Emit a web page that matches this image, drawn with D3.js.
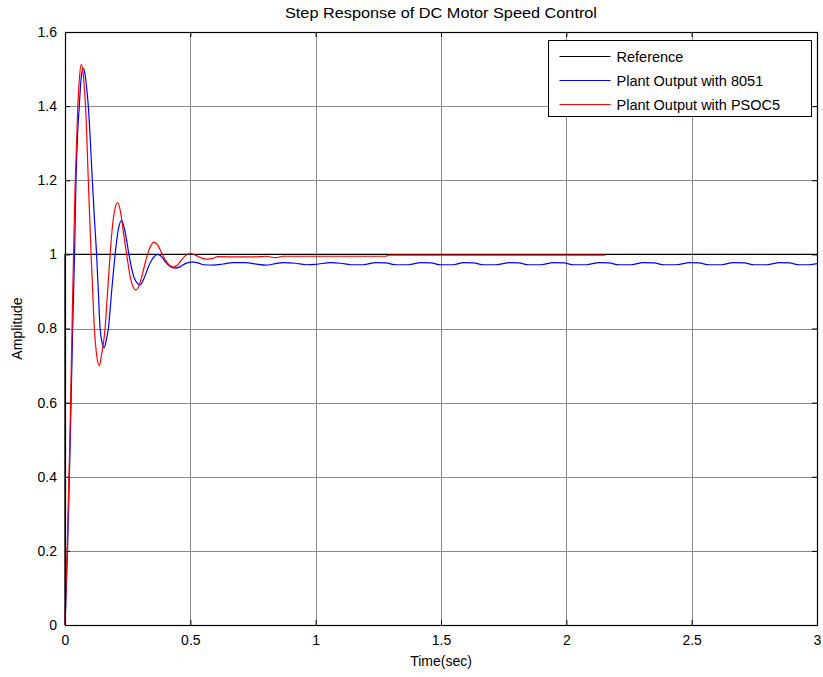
<!DOCTYPE html>
<html>
<head>
<meta charset="utf-8">
<script src="https://cdn.jsdelivr.net/npm/d3@7"></script>
<style>
  html, body { margin: 0; padding: 0; background: #fff; }
  svg { display: block; font-family: "Liberation Sans", Arial, sans-serif; }
</style>
</head>
<body>
<svg id="chart" width="823" height="677"></svg>
<script>
// Step response of a DC motor speed loop: reference and two controller implementations
const chartTitle = "Step Response of DC Motor Speed Control";
const xLabel = "Time(sec)";
const yLabel = "Amplitude";
const xTicks = [0, 0.5, 1, 1.5, 2, 2.5, 3];
const yTicks = [0, 0.2, 0.4, 0.6, 0.8, 1, 1.2, 1.4, 1.6];
const seriesNames = ["Reference", "Plant Output with 8051", "Plant Output with PSOC5"];
const seriesColors = ["#000000", "#0000ff", "#ff0000"];

// [time (s), amplitude]
const reference = [[0, 0], [0, 1], [3, 1]];

const out8051 = [
  [0, 0], [0.01, 0.2], [0.02, 0.47], [0.03, 0.78], [0.038, 1.0], [0.044, 1.2],
  [0.05, 1.32], [0.057, 1.4], [0.065, 1.48], [0.073, 1.502], [0.08, 1.485],
  [0.087, 1.445], [0.093, 1.4], [0.1, 1.32], [0.109, 1.2], [0.118, 1.09],
  [0.126, 1.0], [0.133, 0.9], [0.14, 0.8], [0.148, 0.762], [0.156, 0.748],
  [0.165, 0.77], [0.173, 0.8], [0.186, 0.9], [0.2, 1.0], [0.212, 1.065],
  [0.226, 1.092], [0.24, 1.06], [0.255, 1.0], [0.27, 0.95], [0.285, 0.925],
  [0.3, 0.918], [0.315, 0.935], [0.335, 0.97], [0.355, 0.993], [0.37, 1.0],
  [0.385, 0.994], [0.4, 0.98], [0.42, 0.967], [0.439, 0.963], [0.46, 0.967],
  [0.48, 0.975], [0.505, 0.980], [0.53, 0.977], [0.555, 0.972], [0.59, 0.971],
  [0.63, 0.974], [0.67, 0.978], [0.72, 0.978], [0.77, 0.973], [0.80, 0.971],
  [0.84, 0.975], [0.87, 0.978], [0.92, 0.976], [0.96, 0.972], [1.0, 0.973],
  [1.06, 0.978], [1.1, 0.976], [1.14, 0.972], [1.19, 0.972], [1.24, 0.978],
  [1.28, 0.977], [1.32, 0.972], [1.37, 0.972], [1.42, 0.978], [1.46, 0.977],
  [1.5, 0.972], [1.55, 0.972], [1.59, 0.978], [1.63, 0.977], [1.67, 0.972],
  [1.72, 0.972], [1.775, 0.978], [1.81, 0.977], [1.85, 0.972], [1.9, 0.972],
  [1.947, 0.978], [1.99, 0.977], [2.03, 0.972], [2.08, 0.972], [2.13, 0.978],
  [2.17, 0.977], [2.21, 0.972], [2.26, 0.972], [2.306, 0.978], [2.35, 0.977],
  [2.39, 0.972], [2.44, 0.972], [2.493, 0.978], [2.53, 0.977], [2.57, 0.972],
  [2.62, 0.972], [2.665, 0.978], [2.71, 0.977], [2.75, 0.972], [2.8, 0.972],
  [2.852, 0.978], [2.89, 0.977], [2.93, 0.972], [2.97, 0.972], [3.0, 0.975]
];

const outPsoc5 = [
  [0, 0], [0.01, 0.24], [0.02, 0.52], [0.03, 0.87], [0.04, 1.18], [0.05, 1.38],
  [0.058, 1.48], [0.065, 1.513], [0.072, 1.49], [0.078, 1.44], [0.082, 1.4],
  [0.093, 1.2], [0.104, 1.0], [0.11, 0.91], [0.117, 0.8], [0.126, 0.73],
  [0.137, 0.70], [0.146, 0.73], [0.16, 0.8], [0.17, 0.9], [0.18, 1.0],
  [0.19, 1.08], [0.2, 1.125], [0.21, 1.14], [0.22, 1.12], [0.233, 1.06],
  [0.246, 1.0], [0.26, 0.94], [0.272, 0.912], [0.283, 0.904], [0.295, 0.915],
  [0.31, 0.95], [0.325, 0.99], [0.34, 1.02], [0.355, 1.033], [0.37, 1.025],
  [0.385, 1.005], [0.4, 0.985], [0.415, 0.972], [0.432, 0.966], [0.45, 0.972],
  [0.465, 0.985], [0.48, 0.996], [0.5, 1.003], [0.52, 0.998], [0.545, 0.99],
  [0.565, 0.987], [0.59, 0.989], [0.61, 0.994], [0.7, 0.993], [0.76, 0.993],
  [0.8, 0.995], [0.84, 0.991], [0.87, 0.995], [1.0, 0.995], [1.28, 0.995],
  [1.29, 0.998], [2.155, 0.998]
];

const W = 823, H = 677;
const margin = { left: 65, right: 6, top: 32, bottom: 52 };
const plotW = W - margin.left - margin.right;
const plotH = H - margin.top - margin.bottom;

const x = d3.scaleLinear().domain([0, 3]).range([0, plotW]);
const y = d3.scaleLinear().domain([0, 1.6]).range([plotH, 0]);

const svg = d3.select("#chart");
const g = svg.append("g").attr("transform", `translate(${margin.left},${margin.top})`);

// grid
g.append("g").selectAll("line.vx").data(xTicks.slice(1, -1)).join("line")
  .attr("x1", d => Math.round(x(d)) + 0.5).attr("x2", d => Math.round(x(d)) + 0.5)
  .attr("y1", 0).attr("y2", plotH)
  .attr("stroke", "#8a8a8a").attr("stroke-width", 1);
g.append("g").selectAll("line.hy").data(yTicks.slice(1, -1)).join("line")
  .attr("y1", d => Math.round(y(d)) + 0.5).attr("y2", d => Math.round(y(d)) + 0.5)
  .attr("x1", 0).attr("x2", plotW)
  .attr("stroke", "#8a8a8a").attr("stroke-width", 1);

// axes with inward ticks on all four sides
const fmt = d => d3.format("~g")(d);
const axB = g.append("g").attr("transform", `translate(0,${plotH})`)
  .call(d3.axisBottom(x).tickValues(xTicks).tickFormat(fmt).tickSizeInner(-5).tickSizeOuter(0).tickPadding(10));
const axT = g.append("g")
  .call(d3.axisTop(x).tickValues(xTicks).tickFormat("").tickSizeInner(-5).tickSizeOuter(0));
const axL = g.append("g")
  .call(d3.axisLeft(y).tickValues(yTicks).tickFormat(fmt).tickSizeInner(-5).tickSizeOuter(0).tickPadding(8));
const axR = g.append("g").attr("transform", `translate(${plotW},0)`)
  .call(d3.axisRight(y).tickValues(yTicks).tickFormat("").tickSizeInner(-5).tickSizeOuter(0));
[axB, axT, axL, axR].forEach(a => {
  a.select(".domain").remove();
  a.selectAll("line").attr("stroke", "#000");
  a.selectAll("text").attr("fill", "#000").style("font-size", "14px")
    .style("font-family", "'Liberation Sans', Arial, sans-serif");
});

// series
const line = d3.line().x(d => x(d[0])).y(d => y(d[1])).curve(d3.curveMonotoneX);
const stepLine = d3.line().x(d => x(d[0])).y(d => y(d[1]));
const plot = g.append("g");
plot.append("path").datum(reference).attr("d", stepLine)
  .attr("fill", "none").attr("stroke", seriesColors[0]).attr("stroke-width", 1.3);
plot.append("path").datum(out8051).attr("d", line)
  .attr("fill", "none").attr("stroke", seriesColors[1]).attr("stroke-width", 1.2);
plot.append("path").datum(outPsoc5).attr("d", line)
  .attr("fill", "none").attr("stroke", seriesColors[2]).attr("stroke-width", 1.2);

// box
g.append("rect").attr("x", 0.5).attr("y", 0.5).attr("width", plotW).attr("height", plotH)
  .attr("fill", "none").attr("stroke", "#000").attr("stroke-width", 1.2);

// title and labels
svg.append("text").attr("x", margin.left + plotW / 2).attr("y", 18)
  .attr("text-anchor", "middle").style("font-size", "14px").attr("fill", "#000")
  .attr("textLength", 312).attr("lengthAdjust", "spacingAndGlyphs")
  .text(chartTitle);
svg.append("text").attr("x", margin.left + plotW / 2).attr("y", 666)
  .attr("text-anchor", "middle").style("font-size", "14px").attr("fill", "#000")
  .text(xLabel);
svg.append("text").attr("transform", `translate(22,${margin.top + plotH / 2}) rotate(-90)`)
  .attr("text-anchor", "middle").style("font-size", "14px").attr("fill", "#000")
  .text(yLabel);

// legend
const lg = svg.append("g").attr("transform", "translate(548.5,40.5)");
lg.append("rect").attr("width", 263).attr("height", 76)
  .attr("fill", "#fff").attr("stroke", "#000").attr("stroke-width", 1);
seriesNames.forEach((name, i) => {
  const yy = 16 + i * 24;
  lg.append("line").attr("x1", 11).attr("x2", 62).attr("y1", yy).attr("y2", yy)
    .attr("stroke", seriesColors[i]).attr("stroke-width", 1.2);
  lg.append("text").attr("x", 68).attr("y", yy + 5).style("font-size", "14.5px")
    .attr("fill", "#000").text(name);
});
</script>
</body>
</html>
